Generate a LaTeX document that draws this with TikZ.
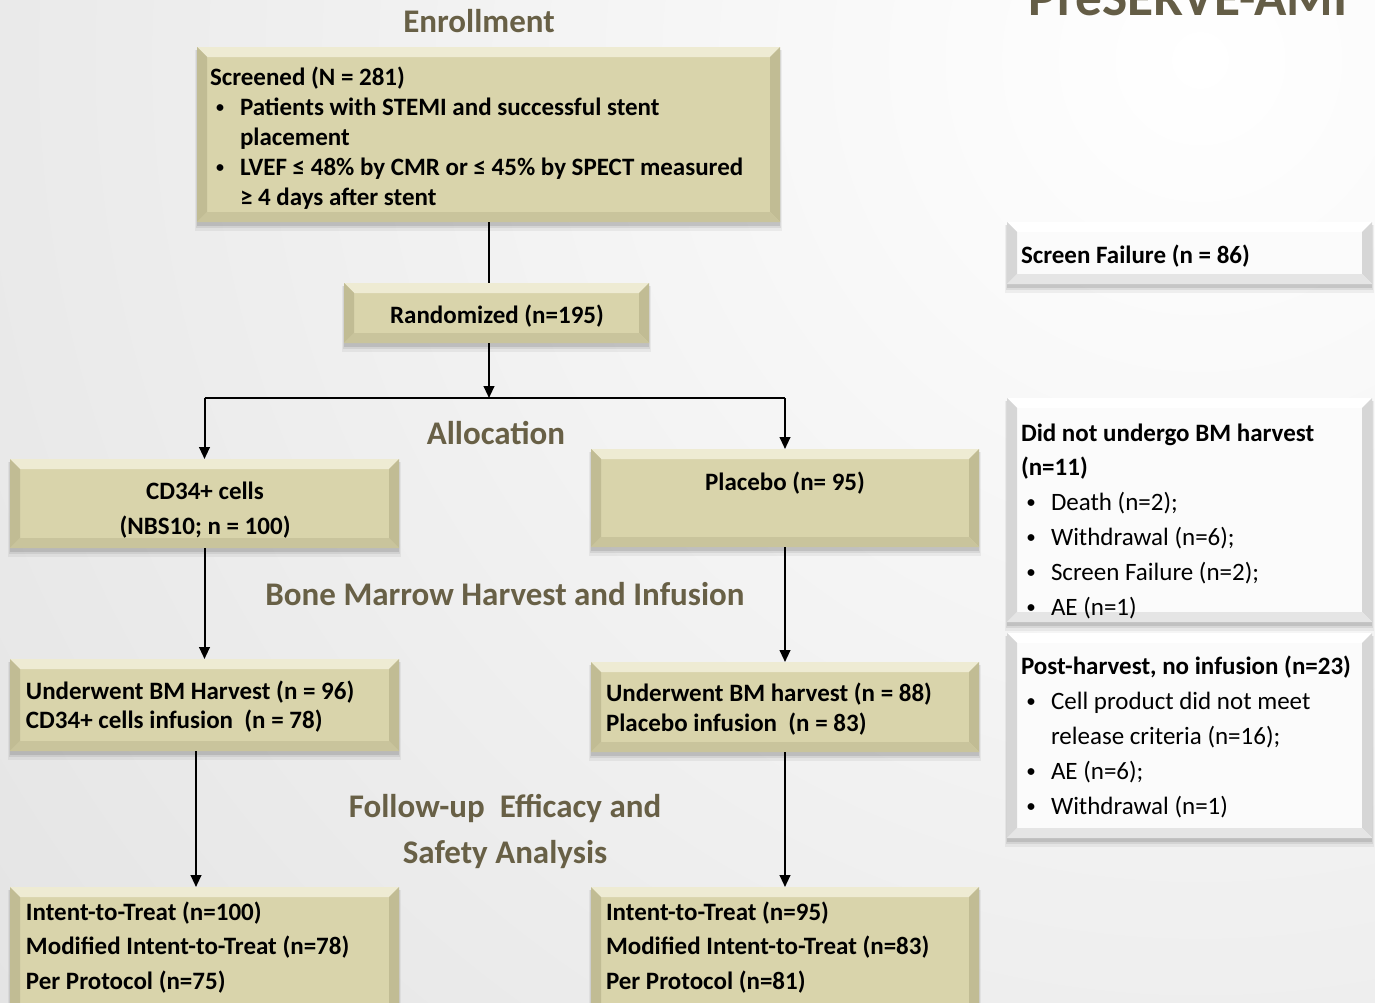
\documentclass[tikz,border=0pt]{standalone}
\usepackage{fontspec}
\setmainfont{Carlito}
\usetikzlibrary{arrows.meta,calc,fit}
\definecolor{khaki}{RGB}{217,212,171}
\definecolor{khakitop}{RGB}{238,235,211}
\definecolor{khakiside}{RGB}{193,188,148}
\definecolor{khakibot}{RGB}{201,196,156}
\definecolor{wbox}{RGB}{251,251,251}
\definecolor{wtop}{RGB}{255,255,255}
\definecolor{wside}{RGB}{214,214,214}
\definecolor{wbot}{RGB}{229,229,229}
\definecolor{titlec}{RGB}{104,96,70}
\definecolor{bggray}{RGB}{225,225,225}
\newlength\pxu \setlength\pxu{0.75pt}
\newcommand\rows[2]{\begin{tabular}[t]{@{}#1@{}}#2\end{tabular}}
\newcommand\bul{\hspace*{6\pxu}\makebox[24\pxu][l]{\raisebox{0.12em}{\fontsize{12}{12}\selectfont •}}}
\newcommand\ind{\hspace*{30\pxu}}
\newcommand\bevelbox[7]{%
  \coordinate (#1-a) at #2; \coordinate (#1-b) at #3;
  \fill[black,opacity=.05] ($(#1-a)+(-2,3)$) rectangle ($(#1-b)+(2,9)$);
  \fill[black,opacity=.07] ($(#1-a)+(-1,3)$) rectangle ($(#1-b)+(1,6)$);
  \fill[black,opacity=.10] ($(#1-a)+(0,3)$) rectangle ($(#1-b)+(0,4)$);
  \node[box, fill=#4, fit=(#1-a)(#1-b)] (#1) {};
  \fill[#5] (#1.north west) -- (#1.north east) -- ($(#1.north east)+(-10,10)$) -- ($(#1.north west)+(10,10)$) -- cycle;
  \fill[#6] (#1.north west) -- ($(#1.north west)+(10,10)$) -- ($(#1.south west)+(10,-10)$) -- (#1.south west) -- cycle;
  \fill[#6] (#1.north east) -- ($(#1.north east)+(-10,10)$) -- ($(#1.south east)+(-10,-10)$) -- (#1.south east) -- cycle;
  \fill[#7] (#1.south west) -- ($(#1.south west)+(10,-10)$) -- ($(#1.south east)+(-10,-10)$) -- (#1.south east) -- cycle;
}
\tikzset{
  box/.style={inner sep=0pt, outer sep=0pt, draw=none},
  txt/.style={inner sep=0pt, outer sep=0pt, font=\bfseries\fontsize{18.75}{22.5}\selectfont},
  ttl/.style={inner sep=0pt, outer sep=0pt, text=titlec, font=\bfseries\fontsize{24.75}{34.5}\selectfont},
  conn/.style={line width=1.5pt, black},
  arr/.style={conn, -{Triangle[width=8pt,length=9pt]}},
}
\begin{document}
\begin{tikzpicture}[x=0.75pt,y=-0.75pt]
\useasboundingbox (0,0) rectangle (1375,1003);
\clip (0,0) rectangle (1375,1003);
% background
\fill[bggray] (0,0) rectangle (1375,1003);
\shade[inner color=white, outer color=bggray] (1200,60) circle[radius=1700];

% titles
\node[ttl, anchor=base] (tenroll) at (479,32) {Enrollment};
\node[ttl, anchor=base] (talloc) at (496,444) {Allocation};
\node[ttl, anchor=base] (tbm) at (505,605) {Bone Marrow Harvest and Infusion};
\node[ttl, anchor=base] (tfu) at (505,817) {\rows{c}{Follow-up\ \ Efficacy and\\ Safety Analysis}};
\node[ttl, anchor=base, text={rgb,255:red,100;green,93;blue,70}, font=\bfseries\fontsize{40}{48}\selectfont] (tmain) at (1188,15) {PreSERVE-AMI};

% khaki boxes
\bevelbox{screened}{(197,47)}{(780,222)}{khaki}{khakitop}{khakiside}{khakibot}
\bevelbox{randomized}{(344,283)}{(649,343)}{khaki}{khakitop}{khakiside}{khakibot}
\bevelbox{cd34}{(10,459)}{(399,548)}{khaki}{khakitop}{khakiside}{khakibot}
\bevelbox{placebo}{(591,449)}{(979,547)}{khaki}{khakitop}{khakiside}{khakibot}
\bevelbox{uleft}{(10,659)}{(399,751)}{khaki}{khakitop}{khakiside}{khakibot}
\bevelbox{uright}{(591,662)}{(979,752)}{khaki}{khakitop}{khakiside}{khakibot}
\bevelbox{bleft}{(10,887)}{(399,1015)}{khaki}{khakitop}{khakiside}{khakibot}
\bevelbox{bright}{(591,887)}{(979,1015)}{khaki}{khakitop}{khakiside}{khakibot}
% white boxes
\bevelbox{sfail}{(1007,222)}{(1372,284)}{wbox}{wtop}{wside}{wbot}
\bevelbox{noharv}{(1007,398)}{(1372,622)}{wbox}{wtop}{wside}{wbot}
\bevelbox{noinf}{(1007,633)}{(1372,838)}{wbox}{wtop}{wside}{wbot}

% texts
\node[txt, anchor=base west] (screenedtxt) at (210,85) {\rows{l}{Screened (N = 281)\\
  \bul Patients with STEMI and successful stent\\
  \ind placement\\
  \bul LVEF ≤ 48\% by CMR or ≤ 45\% by SPECT measured\\
  \ind ≥ 4 days after stent}};
\node[txt, anchor=base] (randtxt) at (497,323) {Randomized (n=195)};
\node[txt, anchor=base, font=\bfseries\fontsize{18.75}{26.25}\selectfont] (cd34txt) at (205,499) {\rows{c}{CD34+ cells\\ (NBS10; n = 100)}};
\node[txt, anchor=base] (placebotxt) at (785,490) {Placebo (n= 95)};
\node[txt, anchor=base west, font=\bfseries\fontsize{18.75}{22}\selectfont] (ulefttxt) at (26,699) {\rows{l}{Underwent BM Harvest (n = 96)\\ CD34+ cells infusion\ \ (n = 78)}};
\node[txt, anchor=base west, font=\bfseries\fontsize{18.75}{22.5}\selectfont] (urighttxt) at (606,701) {\rows{l}{Underwent BM harvest (n = 88)\\ Placebo infusion\ \ (n = 83)}};
\node[txt, anchor=base west, font=\bfseries\fontsize{18.75}{25.9}\selectfont] (blefttxt) at (26,920) {\rows{l}{Intent-to-Treat (n=100)\\ Modified Intent-to-Treat (n=78)\\ Per Protocol (n=75)}};
\node[txt, anchor=base west, font=\bfseries\fontsize{18.75}{25.9}\selectfont] (brighttxt) at (606,920) {\rows{l}{Intent-to-Treat (n=95)\\ Modified Intent-to-Treat (n=83)\\ Per Protocol (n=81)}};
\node[txt, anchor=base west] (sfailtxt) at (1021,263) {Screen Failure (n = 86)};
\node[txt, anchor=base west, font=\bfseries\fontsize{18.75}{26.1}\selectfont] (noharvtxt) at (1021,441) {\rows{l}{Did not undergo BM harvest\\ (n=11)\\
  \bul\mdseries Death (n=2);\\
  \bul\mdseries Withdrawal (n=6);\\
  \bul\mdseries Screen Failure (n=2);\\
  \bul\mdseries AE (n=1)}};
\node[txt, anchor=base west, font=\bfseries\fontsize{18.75}{26.25}\selectfont] (noinftxt) at (1021,674) {\rows{l}{Post-harvest, no infusion (n=23)\\
  \bul\mdseries Cell product did not meet\\
  \ind\mdseries release criteria (n=16);\\
  \bul\mdseries AE (n=6);\\
  \bul\mdseries Withdrawal (n=1)}};

% connectors
\coordinate (split) at (489,398);
\draw[conn] (screened.south -| split) -- (randomized.north -| split);
\draw[arr] (randomized.south -| split) -- (split);
\draw[conn] (split -| cd34.north) -- (split -| placebo.north);
\draw[arr] (split -| cd34.north) -- (cd34.north);
\draw[arr] (split -| placebo.north) -- (placebo.north);
\draw[arr] (cd34.south) -- (uleft.north);
\draw[arr] (placebo.south) -- (uright.north);
\coordinate (ulx) at (196,751);
\draw[arr] (ulx) -- (ulx |- bleft.north);
\draw[arr] (uright.south) -- (bright.north);
\end{tikzpicture}
\end{document}
